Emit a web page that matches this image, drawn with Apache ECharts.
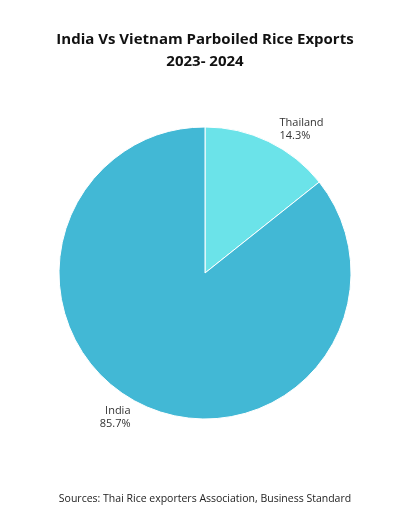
<!DOCTYPE html>
<html>
<head>
<meta charset="utf-8">
<script src="https://cdn.jsdelivr.net/npm/echarts@6/dist/echarts.min.js"></script>
<style>
  html, body { margin: 0; padding: 0; background: #fff; }
  #chart { width: 410px; height: 512px; }
</style>
</head>
<body>
<div id="chart"></div>
<script>
var countries = ['Thailand', 'India'];
var shares = [14.3, 85.7];
var colors = ['#6be3e9', '#42b8d5'];

var chart = echarts.init(document.getElementById('chart'));

chart.setOption({
  animation: false,
  title: [
    {
      text: 'India Vs Vietnam Parboiled Rice Exports\n2023- 2024',
      left: 'center',
      top: 24,
      textStyle: {
        fontFamily: 'Open Sans',
        fontSize: 15,
        fontWeight: 'bold',
        color: '#111',
        lineHeight: 22
      }
    },
    {
      text: 'Sources: Thai Rice exporters Association, Business Standard',
      left: 'center',
      top: 489,
      textStyle: {
        fontFamily: 'Open Sans',
        fontSize: 10.5,
        fontWeight: 'normal',
        color: '#222'
      }
    }
  ],
  series: [{
    type: 'pie',
    center: [205, 273],
    radius: [0, 146],
    startAngle: 90,
    clockwise: true,
    itemStyle: { borderColor: '#fff', borderWidth: 1 },
    label: {
      show: true,
      position: 'outside',
      formatter: function(p) { return p.name + '\n' + p.value + '%'; },
      fontFamily: 'Open Sans',
      fontSize: 11,
      color: '#333',
      lineHeight: 13,
      align: 'center'
    },
    labelLine: { show: false, length: 14, length2: 0 },
    data: countries.map(function(name, i) {
      return { name: name, value: shares[i], itemStyle: { color: colors[i] } };
    })
  }]
});
</script>
</body>
</html>
